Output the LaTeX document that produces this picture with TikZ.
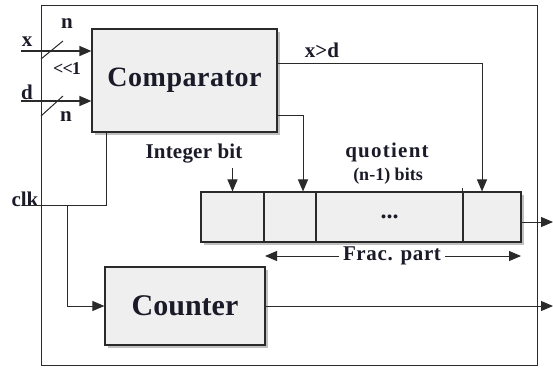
\documentclass[tikz,border=0pt]{standalone}
\usepackage{fontspec}
\setmainfont{Liberation Serif}
\usetikzlibrary{arrows.meta,shadows}
\definecolor{txt}{HTML}{1A1A28}
\definecolor{ln}{HTML}{2A2A2A}
\definecolor{boxfill}{HTML}{EFEFEF}
\tikzset{
  blk/.style={draw=ln, line width=1.2pt, fill=boxfill, inner sep=0pt,
    drop shadow={shadow xshift=3pt, shadow yshift=-3pt, fill=black!45, opacity=0.55}},
  cell/.style={draw=ln, line width=1.1pt, fill=boxfill, inner sep=0pt},
  lbl/.style={text=txt, font=\bfseries\fontsize{21}{24}\selectfont, inner sep=1pt},
  small/.style={text=txt, font=\bfseries\fontsize{18}{20}\selectfont, inner sep=1pt},
  wire/.style={draw=ln, line width=1pt},
  arr/.style={wire, -{Triangle[length=12pt,width=10pt]}},
  darr/.style={wire, {Triangle[length=12pt,width=10pt]}-{Triangle[length=12pt,width=10pt]}},
}
\begin{document}
\begin{tikzpicture}[x=1pt,y=-1pt]
\useasboundingbox (0,0) rectangle (553,368);
% outer frame
\node[draw=ln, line width=1pt, minimum width=496pt, minimum height=360pt, inner sep=0pt] (frame) at (289,185) {};
% main blocks
\node[blk, minimum width=185pt, minimum height=103pt, text=txt,
  font=\bfseries\fontsize{28}{30}\selectfont] (cmp) at (184.5,80.5) {\addfontfeature{LetterSpace=2}Comparator};
\node[blk, minimum width=160pt, minimum height=78pt, text=txt,
  font=\bfseries\fontsize{30}{32}\selectfont] (cnt) at (185,306) {Counter};
% register
\node[blk, minimum width=320pt, minimum height=50pt] (reg) at (361,217) {};
\node[cell, minimum width=63pt, minimum height=50pt] (c1) at (232.5,217) {};
\node[cell, minimum width=52pt, minimum height=50pt] (c2) at (290,217) {};
\node[cell, minimum width=147pt, minimum height=50pt, text=txt,
  font=\bfseries\fontsize{24}{24}\selectfont] (c3) at (389.5,217) {...};
\node[cell, minimum width=58pt, minimum height=50pt] (c4) at (492,217) {};
\draw[ln, line width=1.1pt] ([yshift=3pt]c4.north west) -- (c4.south west);
% input labels
\node[lbl] (xl) at (27,42) {x};
\node[lbl] (dl) at (27,92) {d};
\node[lbl] (n1) at (67,24) {n};
\node[lbl] (n2) at (66,117) {n};
\node[small] (sh) at (67,69) {\textless\kern-1pt\textless\kern-1pt 1};
\node[lbl] (clk) at (25,199) {clk};
\coordinate (xs) at (21,51);
\coordinate (ds) at (21,101);
\draw[arr, line width=1.4pt] (xs) -- (xs -| cmp.west);
\draw[arr, line width=1.4pt] (ds) -- (ds -| cmp.west);
\coordinate (sx) at (52,50);
\coordinate (sd) at (52,106);
\draw[wire] ([shift={(-11,9)}]sx) -- ([shift={(11,-9)}]sx);
\draw[wire] ([shift={(-11,10)}]sd) -- ([shift={(11,-10)}]sd);
% comparator outputs
\node[lbl] (gt) at (322,50) {x>d};
\draw[arr] ([yshift=17.5pt]cmp.east) -| ([xshift=-10pt]c4.north);
\draw[arr] ([yshift=-34.5pt]cmp.east) -| ([xshift=13pt]c2.north);
% integer bit
\node[lbl] (ib) at (194,154) {\addfontfeature{LetterSpace=1}Integer bit};
\coordinate (ibs) at (232.5,168);
\draw[arr] (ibs) -- (c1.north);
% quotient
\node[lbl] (q) at (387,152) {\addfontfeature{LetterSpace=6}quotient};
\node[small] (qb) at (388,176) {(n-1) bits};
% register output
\coordinate (rout) at (553,222);
\draw[arr] ([yshift=-5pt]reg.east) -- (rout);
% frac part
\coordinate (fl) at (265,256);
\coordinate (fr) at (521,256);
\draw[darr] (fl) -- (fr);
\node[lbl, fill=white, inner xsep=4pt] (fp) at (392,256) {\addfontfeature{LetterSpace=3}Frac. part};
% clk
\coordinate (clkc) at (25,205);
\coordinate (clkup) at (106,205);
\coordinate (clkdn) at (67,205);
\draw[wire] (clkc) -- (clkup) -- (clkup |- cmp.south);
\draw[arr] (clkdn) |- (cnt.west);
% counter output
\coordinate (cout) at (553,306);
\draw[arr] (cnt.east) -- (cout);
\end{tikzpicture}
\end{document}
